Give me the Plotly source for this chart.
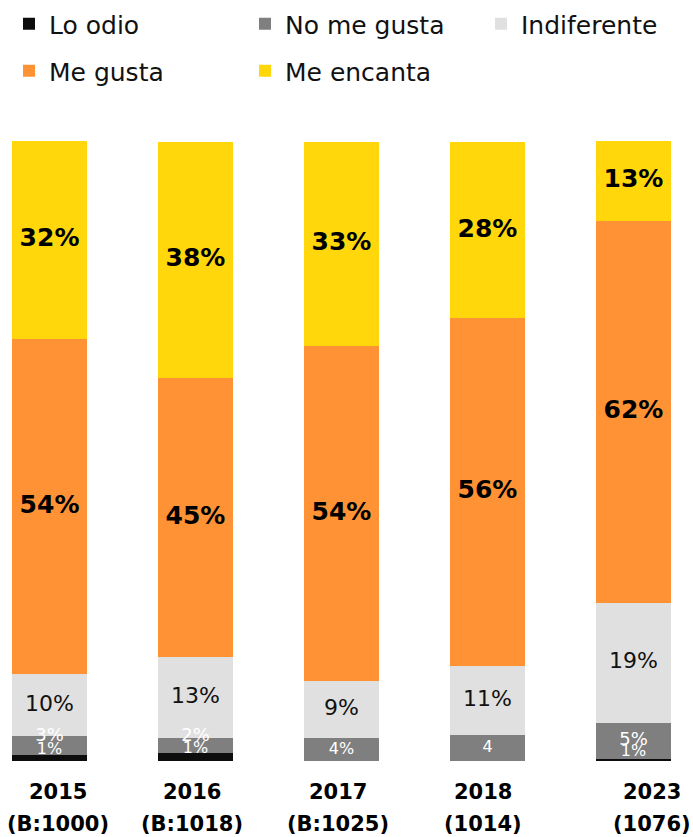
import plotly.graph_objects as go

years = ["2015", "2016", "2017", "2018", "2023"]
bases = ["(B:1000)", "(B:1018)", "(B:1025)", "(1014)", "(1076)"]

series_names = ["Lo odio", "No me gusta", "Indiferente", "Me gusta", "Me encanta"]
lo_odio = [1, 1.3, 0, 0, 0.4]
no_me_gusta = [3, 2.4, 3.7, 4.2, 5.8]
indiferente = [10, 13, 9.2, 11.2, 19.3]
me_gusta = [54, 45, 54, 56, 61.6]
me_encanta = [32, 38.2, 33, 28.4, 13]

lo_odio_lbl = ["1%", "1%", "", "", "1%"]
no_me_gusta_lbl = ["3%", "2%", "4%", "4", "5%"]
indiferente_lbl = ["10%", "13%", "9%", "11%", "19%"]
me_gusta_lbl = ["54%", "45%", "54%", "56%", "62%"]
me_encanta_lbl = ["32%", "38%", "33%", "28%", "13%"]

values = [lo_odio, no_me_gusta, indiferente, me_gusta, me_encanta]
labels = [lo_odio_lbl, no_me_gusta_lbl, indiferente_lbl, me_gusta_lbl, me_encanta_lbl]
colors = ["#0D0D0D", "#7F7F7F", "#E0E0E0", "#FF9234", "#FFD70A"]

FONT = "DejaVu Sans"
W, H = 693, 837
fig = go.Figure()

# legend placement (container px): one legend per entry, two rows
legend_left_px = [9, 245, 481, 9, 245]
legend_top_px = [1, 1, 1, 48, 48]
legend_ids = ["legend", "legend2", "legend3", "legend4", "legend5"]

for i, (name, vals, col) in enumerate(zip(series_names, values, colors)):
    fig.add_trace(go.Bar(
        x=years, y=vals, name=name, marker=dict(color=col, line=dict(width=0)),
        legend=legend_ids[i], hoverinfo="skip",
    ))

lbl_style = [
    dict(color="white", size=[16] * 5, bold=False, pos=["top center"] * 5),
    dict(color="white", size=[18, 18, 16, 16, 18], bold=False,
         pos=["top center", "top center", "middle center", "middle center", "middle center"]),
    dict(color="#111111", size=[22] * 5, bold=False, pos=["middle center"] * 5),
    dict(color="#000000", size=[25] * 5, bold=True, pos=["middle center"] * 5),
    dict(color="#000000", size=[25] * 5, bold=True, pos=["middle center"] * 5),
]

cum = [0] * len(years)
for vals, lbls, st in zip(values, labels, lbl_style):
    mids = [c + v / 2 for c, v in zip(cum, vals)]
    cum = [c + v for c, v in zip(cum, vals)]
    fig.add_trace(go.Scatter(
        x=years, y=mids, mode="text",
        text=[("<b>%s</b>" % t if (st["bold"] and t) else t) for t in lbls],
        textposition=st["pos"],
        textfont=dict(color=st["color"], size=st["size"], family=FONT),
        showlegend=False, hoverinfo="skip",
    ))

label_xshift = [8, -4, -4, -4, 19]
for idx, (yr, b, dx) in enumerate(zip(years, bases, label_xshift)):
    fig.add_annotation(x=idx, y=0, xref="x", yref="y", text="<b>%s</b>" % yr,
                       showarrow=False, yanchor="middle", yshift=-31, xshift=dx,
                       font=dict(family=FONT, size=21, color="#000"))
    fig.add_annotation(x=idx, y=0, xref="x", yref="y", text="<b>%s</b>" % b,
                       showarrow=False, yanchor="middle", yshift=-63, xshift=dx,
                       font=dict(family=FONT, size=21, color="#000"))

legend_common = dict(
    orientation="h", xref="container", yref="container", xanchor="left", yanchor="top",
    font=dict(family=FONT, size=25, color="#111"), bgcolor="rgba(0,0,0,0)",
    itemwidth=30, itemclick=False, itemdoubleclick=False,
)
legends = {}
for lid, lx, ly in zip(legend_ids, legend_left_px, legend_top_px):
    legends[lid] = dict(x=lx / W, y=1 - ly / H, **legend_common)

fig.update_layout(
    width=W, height=H,
    margin=dict(l=12, r=22, t=141, b=76),
    paper_bgcolor="white", plot_bgcolor="white",
    barmode="stack", bargap=0.486,
    showlegend=True,
    xaxis=dict(type="category", range=[-0.257, 4.257], showticklabels=False,
               showgrid=False, zeroline=False, showline=False, ticks=""),
    yaxis=dict(range=[0, 100], visible=False, showgrid=False, zeroline=False),
    font=dict(family=FONT),
    **legends,
)

fig.write_html("out.html", config={"displayModeBar": False},
               post_script="document.body.style.margin='0';document.body.style.overflow='hidden';")
